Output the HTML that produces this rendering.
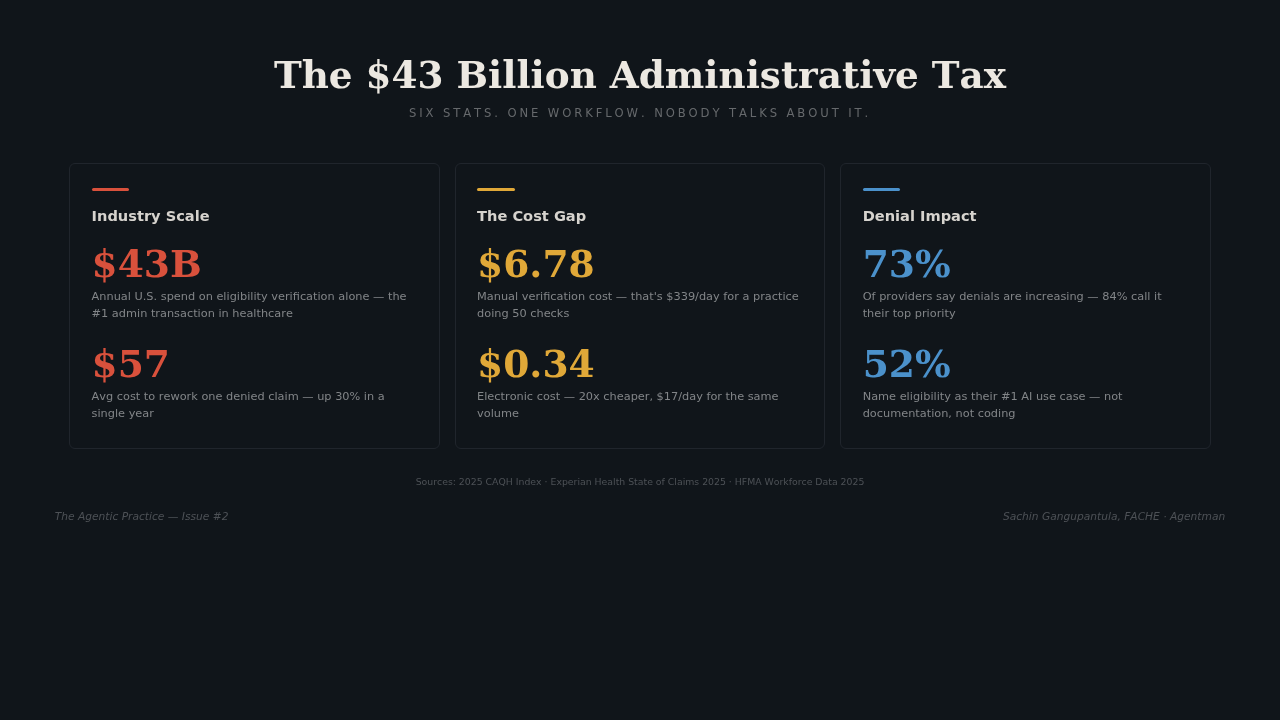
<!DOCTYPE html>
<html lang="en">
<head>
<meta charset="utf-8">
<title>The $43 Billion Administrative Tax</title>
<style>
*{box-sizing:border-box;margin:0;padding:0}
html,body{width:1280px;height:720px;overflow:hidden}
body{background:#10151a;font-kerning:none;font-family:"DejaVu Sans","Liberation Sans",sans-serif;color:#8a8d90;position:relative}
h1{position:absolute;left:0;top:52px;width:1280px;text-align:center;font-family:"DejaVu Serif","Liberation Serif",serif;font-weight:700;font-size:37.35px;line-height:46px;color:#ece8e1}
.sub{position:absolute;left:0;top:105px;width:1280px;text-align:center;font-size:11.6px;line-height:16px;letter-spacing:2.9px;color:#66696c}
.card{position:absolute;top:163px;width:370.5px;height:286px;border:1px solid #20252c;border-radius:6px;background:#10151a;padding:24px 21.4px 0 21.4px}
.c1{left:69.2px}.c2{left:454.7px}.c3{left:840.3px}
.bar{width:37.6px;height:3px;border-radius:2px;margin-bottom:15px}
.c1 .bar{background:#d9513c}.c2 .bar{background:#e0a838}.c3 .bar{background:#4b91cb}
.card h2{font-size:14.6px;line-height:20px;font-weight:700;color:#d6d3ce}
.num{font-family:"DejaVu Serif","Liberation Serif",serif;font-weight:700;font-size:37.6px;line-height:46px;margin-top:15px}
.c1 .num{color:#d9513c}.c2 .num{color:#e0a838}.c3 .num{color:#4b91cb}
.desc{font-size:11.32px;line-height:16.65px;color:#828588;margin-top:1px;white-space:nowrap}
.stat + .stat{margin-top:20px}
.src{position:absolute;left:0;top:476px;width:1280px;text-align:center;font-size:9.34px;line-height:12px;color:#4d5156}
.fl,.fr{position:absolute;top:510px;font-size:10.66px;line-height:14px;font-style:italic;color:#4d5156}
.fl{left:54.7px}.fr{right:54.8px}
</style>
</head>
<body>
<h1>The $43 Billion Administrative Tax</h1>
<div class="sub">SIX STATS. ONE WORKFLOW. NOBODY TALKS ABOUT IT.</div>

<div class="card c1">
  <div class="bar"></div>
  <h2>Industry Scale</h2>
  <div class="stat"><div class="num">$43B</div><div class="desc">Annual U.S. spend on eligibility verification alone — the<br>#1 admin transaction in healthcare</div></div>
  <div class="stat"><div class="num">$57</div><div class="desc">Avg cost to rework one denied claim — up 30% in a<br>single year</div></div>
</div>
<div class="card c2">
  <div class="bar"></div>
  <h2>The Cost Gap</h2>
  <div class="stat"><div class="num">$6.78</div><div class="desc">Manual verification cost — that's $339/day for a practice<br>doing 50 checks</div></div>
  <div class="stat"><div class="num">$0.34</div><div class="desc">Electronic cost — 20x cheaper, $17/day for the same<br>volume</div></div>
</div>
<div class="card c3">
  <div class="bar"></div>
  <h2>Denial Impact</h2>
  <div class="stat"><div class="num">73%</div><div class="desc">Of providers say denials are increasing — 84% call it<br>their top priority</div></div>
  <div class="stat"><div class="num">52%</div><div class="desc">Name eligibility as their #1 AI use case — not<br>documentation, not coding</div></div>
</div>

<div class="src">Sources: 2025 CAQH Index · Experian Health State of Claims 2025 · HFMA Workforce Data 2025</div>
<div class="fl">The Agentic Practice — Issue #2</div>
<div class="fr">Sachin Gangupantula, FACHE · Agentman</div>
</body>
</html>
